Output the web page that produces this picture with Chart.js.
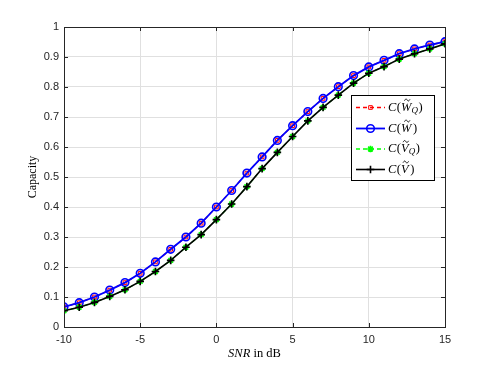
<!DOCTYPE html>
<html>
<head>
<meta charset="utf-8">
<script src="https://cdn.jsdelivr.net/npm/chart.js@4/dist/chart.umd.min.js"></script>
<style>
html,body{margin:0;padding:0;background:#fff;}
#wrap{width:491px;height:368px;position:relative;}
</style>
</head>
<body>
<div id="wrap"><canvas id="c" width="491" height="368"></canvas></div>
<script>
// ---- data ----
const snrDb = [-10,-9,-8,-7,-6,-5,-4,-3,-2,-1,0,1,2,3,4,5,6,7,8,9,10,11,12,13,14,15];
const capWQ = [0.067,0.081,0.100,0.123,0.148,0.179,0.217,0.259,0.300,0.346,0.400,0.455,0.513,0.567,0.622,0.671,0.718,0.762,0.801,0.838,0.867,0.889,0.911,0.927,0.940,0.951];
const capW  = [0.067,0.081,0.100,0.123,0.148,0.179,0.217,0.259,0.300,0.346,0.400,0.455,0.513,0.567,0.622,0.671,0.718,0.762,0.801,0.838,0.867,0.889,0.911,0.927,0.940,0.951];
const capVQ = [0.054,0.066,0.082,0.102,0.124,0.152,0.185,0.222,0.266,0.308,0.358,0.410,0.468,0.528,0.582,0.635,0.687,0.732,0.773,0.813,0.846,0.868,0.893,0.911,0.927,0.944];
const capV  = [0.054,0.066,0.082,0.102,0.124,0.152,0.185,0.222,0.266,0.308,0.358,0.410,0.468,0.528,0.582,0.635,0.687,0.732,0.773,0.813,0.846,0.868,0.893,0.911,0.927,0.944];
const xTickLabels = ['-10','-5','0','5','10','15'];
const yTickLabels = ['0','0.1','0.2','0.3','0.4','0.5','0.6','0.7','0.8','0.9','1'];
const legendNames = [
  {base:'W', sub:'Q'},
  {base:'W', sub:''},
  {base:'V', sub:'Q'},
  {base:'V', sub:''}
];
const yTitle = 'Capacity';
const xTitleItalic = 'SNR';
const xTitleRest = ' in dB';

const pts = arr => snrDb.map((x,i)=>({x:x,y:arr[i]}));
const AX = '#262626';

const datasets = [
  {data:pts(capWQ), borderColor:'#ff0000', borderWidth:1.3, borderDash:[4,3], pointStyle:'rect', pointRadius:2.6, pointBorderColor:'#ff0000', pointBackgroundColor:'rgba(0,0,0,0)', pointBorderWidth:1, order:4},
  {data:pts(capW), borderColor:'#0000ff', borderWidth:1.8, pointStyle:'circle', pointRadius:3.8, pointBorderColor:'#0000ff', pointBackgroundColor:'rgba(0,0,0,0)', pointBorderWidth:1.6, order:3},
  {data:pts(capVQ), borderColor:'#00ff00', borderWidth:1.3, borderDash:[4,3], pointStyle:'star', pointRadius:3.3, pointBorderColor:'#00ff00', pointBackgroundColor:'#00ff00', pointBorderWidth:1.6, order:2},
  {data:pts(capV), borderColor:'#000000', borderWidth:1.6, pointStyle:'cross', pointRadius:3.8, pointBorderColor:'#000000', pointBorderWidth:1.6, order:1}
];

function drawTilde(ctx, cx, cy, w){
  ctx.save();
  ctx.strokeStyle = '#000'; ctx.lineWidth = 0.9;
  ctx.beginPath();
  const h = 1.1;
  ctx.moveTo(cx - w/2, cy + h*0.6);
  ctx.bezierCurveTo(cx - w/4, cy - h*1.6, cx - w/8, cy - h, cx, cy);
  ctx.bezierCurveTo(cx + w/8, cy + h, cx + w/4, cy + h*1.6, cx + w/2, cy - h*0.6);
  ctx.stroke();
  ctx.restore();
}

function drawMath(ctx, x, y, item){
  const fs = 12.5;
  let cx = x;
  ctx.fillStyle = '#000';
  ctx.textBaseline = 'middle';
  ctx.textAlign = 'left';
  ctx.font = 'italic '+fs+'px "Liberation Serif", serif';
  ctx.fillText('C', cx, y); cx += ctx.measureText('C').width + 0.5;
  ctx.font = fs+'px "Liberation Serif", serif';
  ctx.fillText('(', cx, y); cx += ctx.measureText('(').width;
  ctx.font = 'italic '+fs+'px "Liberation Serif", serif';
  const bw = ctx.measureText(item.base).width;
  ctx.fillText(item.base, cx, y);
  drawTilde(ctx, cx + bw/2 + 1, y - 7.5, 5.5);
  cx += bw;
  if(item.sub){
    ctx.font = 'italic '+(fs*0.72)+'px "Liberation Serif", serif';
    ctx.fillText(item.sub, cx, y + 3);
    cx += ctx.measureText(item.sub).width + 0.5;
  } else {
    cx += 1.5;
  }
  ctx.font = fs+'px "Liberation Serif", serif';
  ctx.fillText(')', cx, y);
}

const boxPlugin = {
  id:'boxPlugin',
  afterDatasetsDraw(chart){
    const ctx = chart.ctx, a = chart.chartArea;
    const xs = chart.scales.x, ys = chart.scales.y;
    ctx.save();
    ctx.strokeStyle = AX; ctx.lineWidth = 1;
    ctx.strokeRect(Math.round(a.left)+0.5, Math.round(a.top)+0.5, Math.round(a.right-a.left), Math.round(a.bottom-a.top));
    const tl = 4;
    ctx.beginPath();
    xs.ticks.forEach(t=>{
      const px = Math.round(xs.getPixelForValue(t.value))+0.5;
      ctx.moveTo(px, a.bottom); ctx.lineTo(px, a.bottom - tl);
      ctx.moveTo(px, a.top); ctx.lineTo(px, a.top + tl);
    });
    ys.ticks.forEach(t=>{
      const py = Math.round(ys.getPixelForValue(t.value))+0.5;
      ctx.moveTo(a.left, py); ctx.lineTo(a.left + tl, py);
      ctx.moveTo(a.right, py); ctx.lineTo(a.right - tl, py);
    });
    ctx.stroke();
    ctx.restore();
  },
  afterDraw(chart){
    const ctx = chart.ctx, a = chart.chartArea;
    ctx.save();
    ctx.fillStyle = '#000';
    ctx.font = '12px "Liberation Serif", serif';
    ctx.textAlign = 'center'; ctx.textBaseline = 'middle';
    ctx.translate(33, (a.top+a.bottom)/2);
    ctx.rotate(-Math.PI/2);
    ctx.fillText(yTitle, 0, 0);
    ctx.restore();
    ctx.save();
    ctx.fillStyle = '#000';
    ctx.textBaseline = 'middle'; ctx.textAlign = 'left';
    ctx.font = 'italic 12.5px "Liberation Serif", serif';
    const w1 = ctx.measureText(xTitleItalic).width;
    ctx.font = '12.5px "Liberation Serif", serif';
    const w2 = ctx.measureText(xTitleRest).width;
    const cxm = (a.left + a.right)/2;
    let sx = cxm - (w1+w2)/2;
    ctx.font = 'italic 12.5px "Liberation Serif", serif';
    ctx.fillText(xTitleItalic, sx, 354);
    ctx.font = '12.5px "Liberation Serif", serif';
    ctx.fillText(xTitleRest, sx + w1, 354);
    ctx.restore();
    // legend
    ctx.save();
    const lx = 351.5, ly = 95.5, lw = 83, lh = 85;
    ctx.fillStyle = '#fff';
    ctx.fillRect(lx, ly, lw, lh);
    ctx.strokeStyle = '#000'; ctx.lineWidth = 1;
    ctx.strokeRect(lx, ly, lw, lh);
    const rows = [107.5, 128.5, 149, 169.5];
    datasets.forEach((ds,i)=>{
      const y = rows[i];
      ctx.save();
      ctx.strokeStyle = ds.borderColor; ctx.lineWidth = ds.borderWidth;
      ctx.setLineDash(ds.borderDash || []);
      ctx.beginPath(); ctx.moveTo(356, y); ctx.lineTo(385, y); ctx.stroke();
      ctx.restore();
      ctx.save();
      ctx.setLineDash([]);
      ctx.strokeStyle = ds.pointBorderColor;
      ctx.fillStyle = ds.pointBackgroundColor || 'rgba(0,0,0,0)';
      ctx.lineWidth = ds.pointBorderWidth;
      Chart.helpers.drawPoint(ctx, {pointStyle: ds.pointStyle, radius: ds.pointRadius, rotation:0, borderWidth: ds.pointBorderWidth}, 370.5, y);
      ctx.restore();
      drawMath(ctx, 388, y, legendNames[i]);
    });
    ctx.restore();
  }
};

new Chart(document.getElementById('c'), {
  type:'line',
  data:{datasets:datasets},
  plugins:[boxPlugin],
  options:{
    responsive:false,
    animation:false,
    devicePixelRatio:1,
    layout:{padding:{left:0, right:46, top:27, bottom:0}},
    plugins:{legend:{display:false}, tooltip:{enabled:false}},
    elements:{line:{tension:0}},
    scales:{
      x:{
        type:'linear', min:-10, max:15,
        afterFit(s){ s.height = 41; },
        afterBuildTicks(s){ s.ticks = xTickLabels.map(v=>({value:Number(v)})); },
        ticks:{ callback:(v)=>{ const i = xTickLabels.indexOf(String(v)); return i>=0 ? xTickLabels[i] : ''; }, color:AX, font:{family:'"Liberation Sans", Arial, sans-serif', size:11}, padding:6, maxRotation:0, autoSkip:false },
        grid:{ color:'#e0e0e0', lineWidth:1, drawTicks:false },
        border:{ display:false }
      },
      y:{
        type:'linear', min:0, max:1,
        afterFit(s){ s.width = 64; },
        afterBuildTicks(s){ s.ticks = yTickLabels.map(v=>({value:Number(v)})); },
        ticks:{ callback:(v)=>{ const i = yTickLabels.findIndex(t=>Math.abs(Number(t)-v)<1e-9); return i>=0 ? yTickLabels[i] : ''; }, color:AX, font:{family:'"Liberation Sans", Arial, sans-serif', size:11}, padding:5, autoSkip:false },
        grid:{ color:'#e0e0e0', lineWidth:1, drawTicks:false },
        border:{ display:false }
      }
    }
  }
});
</script>
</body>
</html>
